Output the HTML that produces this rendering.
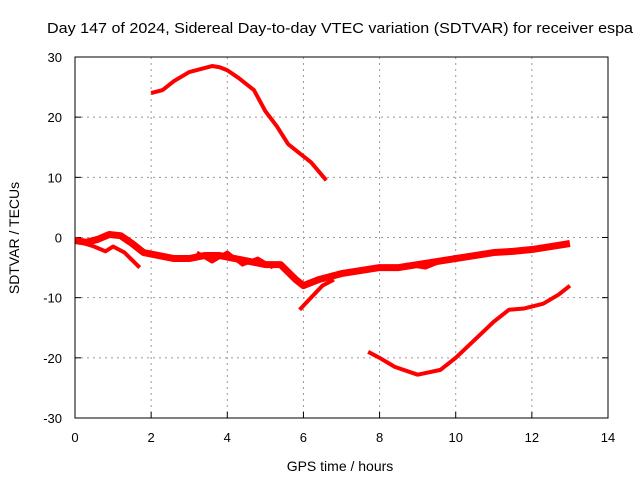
<!DOCTYPE html>
<html><head><meta charset="utf-8"><style>
body{margin:0;background:#fff;font-family:"Liberation Sans",sans-serif}
svg{display:block}
text{font-family:"Liberation Sans",sans-serif;font-size:13px;fill:#000}
</style></head><body>
<svg id="chart" width="640" height="480">
<text x="47" y="33" style="font-size:15px" textLength="586" lengthAdjust="spacingAndGlyphs">Day 147 of 2024, Sidereal Day-to-day VTEC variation (SDTVAR) for receiver espa</text>
<text x="340" y="471" text-anchor="middle" style="font-size:14px">GPS time / hours</text>
<text transform="translate(19,238) rotate(-90)" text-anchor="middle" style="font-size:14px">SDTVAR / TECUs</text>
<g id="grid"></g><g id="series"></g>
<rect x="75" y="57" width="533" height="361" fill="none" stroke="#000" stroke-width="1"/>
</svg>
<script>
const xTicks=[0,2,4,6,8,10,12,14];
const yTicks=[-30,-20,-10,0,10,20,30];
const seriesTop=[[2.0,24],[2.3,24.5],[2.6,26],[3.0,27.5],[3.3,28],[3.6,28.5],[3.8,28.3],[4.0,27.8],[4.3,26.5],[4.7,24.5],[5.0,21],[5.3,18.5],[5.6,15.5],[5.9,14],[6.2,12.5],[6.6,9.5]];
const seriesMain=[[0,-0.5],[0.3,-0.8],[0.6,-0.3],[0.9,0.5],[1.2,0.3],[1.5,-1],[1.8,-2.5],[2.2,-3],[2.6,-3.5],[3.0,-3.5],[3.4,-3],[3.8,-3],[4.2,-3.5],[4.6,-4],[5.0,-4.5],[5.4,-4.5],[5.8,-7],[6.0,-8],[6.4,-7],[7.0,-6],[7.5,-5.5],[8.0,-5],[8.5,-5],[9.0,-4.5],[9.5,-4],[10,-3.5],[10.5,-3],[11,-2.5],[11.5,-2.3],[12,-2],[12.5,-1.5],[13,-1]];
const seriesBranch=[[0,-0.5],[0.5,-1.5],[0.8,-2.3],[1.0,-1.5],[1.3,-2.5],[1.7,-5]];
const seriesBranch2=[[3.2,-2.5],[3.6,-4],[4.0,-2.5],[4.4,-4.5],[4.8,-3.5],[5.2,-5]];
const seriesLoop=[[8.7,-4.5],[9.2,-5],[9.6,-4],[10,-3.2]];
const seriesDip=[[5.9,-12],[6.2,-10],[6.5,-8],[6.8,-7]];
const seriesLow=[[7.7,-19],[8.0,-20],[8.4,-21.5],[9.0,-22.8],[9.6,-22],[10.0,-20],[10.5,-17],[11.0,-14],[11.4,-12],[11.8,-11.8],[12.3,-11],[12.7,-9.5],[13.0,-8]];
const X=v=>75+v*533/14, Y=v=>237.5-v*361/60;
const NS='http://www.w3.org/2000/svg', svg=document.getElementById('chart');
const grid=document.getElementById('grid'), ser=document.getElementById('series');
function mk(t,a,p){const e=document.createElementNS(NS,t);for(const k in a)e.setAttribute(k,a[k]);p.appendChild(e);return e;}
xTicks.forEach(t=>{
 if(t>0&&t<14){const l=mk('line',{x1:X(t),x2:X(t),y1:57,y2:418,stroke:'#999','stroke-dasharray':'2,4'},grid);
 
 }
 const k=mk('line',{x1:X(t),x2:X(t),y1:418,y2:412,stroke:'#000'},grid);
 
 
 const tx=mk('text',{x:X(t),y:442,'text-anchor':'middle'},grid);tx.textContent=t;
 
 
});
yTicks.forEach(t=>{
 if(t>-30&&t<30){const l=mk('line',{x1:75,x2:608,y1:Y(t),y2:Y(t),stroke:'#999','stroke-dasharray':'2,4'},grid);
 
 }
 const k=mk('line',{x1:75,x2:81,y1:Y(t),y2:Y(t),stroke:'#000'},grid);
 
 
 const k2=mk('line',{x1:602,x2:608,y1:Y(t),y2:Y(t),stroke:'#000'},grid);
 
 
 const tx=mk('text',{x:62,y:Y(t)+5,'text-anchor':'end'},grid);tx.textContent=t;
 
 
});
[[seriesTop,'series-top-arc',4],[seriesMain,'series-main-band',7],[seriesBranch,'series-early-branch',4],[seriesBranch2,'series-mid-branch',4],[seriesLoop,'series-loop',4],[seriesDip,'series-dip',4],[seriesLow,'series-lower-arc',4]].forEach(([d,n,w])=>{
 const p=mk('polyline',{points:d.map(q=>X(q[0])+','+Y(q[1])).join(' '),fill:'none',stroke:'#f00','stroke-width':w,'stroke-linejoin':'round'},ser);
 
 
});
</script>
</body></html>
